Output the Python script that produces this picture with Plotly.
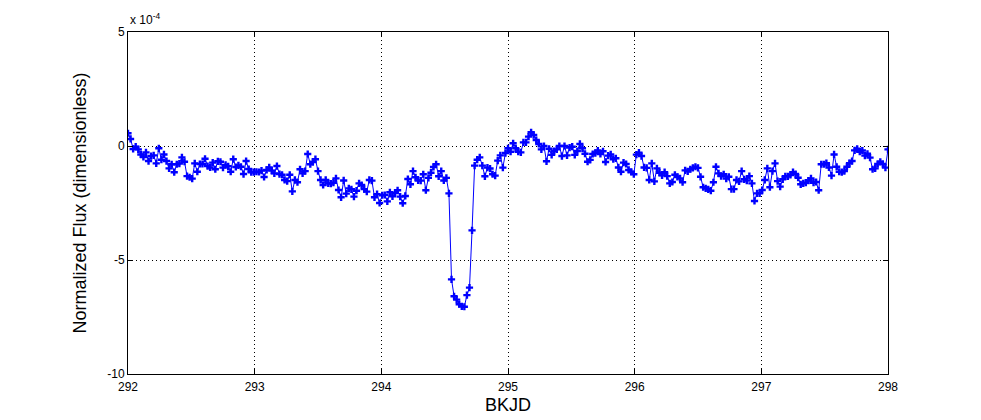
"""Kepler light curve around a transit-like dip, MATLAB-style axes."""

import numpy as np
import plotly.graph_objects as go

# normalized flux, in units of 1e-4, read day by day (292 -> 298 BKJD)
flux_day1 = [0.56, 0.31, -0.13, -0.03, -0.15, -0.37, -0.48, -0.28, -0.66, -0.44,
             -0.41, -0.76, -0.10, -0.60, -0.37, -0.66, -0.98, -0.80, -1.15, -0.80,
             -0.77, -0.50, -0.69, -1.32, -1.37, -1.43, -0.76, -1.13, -0.79, -0.79,
             -0.56, -0.88, -0.94, -0.73, -1.02, -0.67, -0.69, -0.95, -0.83, -0.89,
             -1.13, -0.58, -0.92, -0.85, -0.91, -1.23, -0.66, -1.01, -1.15, -1.15,
             -1.13]
flux_day2 = [-1.14, -1.08, -1.36, -1.05, -0.94, -1.08, -1.20, -0.88, -1.23, -1.26,
             -1.49, -1.54, -1.26, -1.99, -1.49, -1.59, -1.02, -1.20, -1.10, -0.35,
             -0.80, -0.70, -0.58, -1.10, -1.49, -1.71, -1.49, -1.64, -1.65, -1.61,
             -1.42, -1.93, -2.25, -1.51, -2.09, -1.86, -1.90, -2.22, -1.96, -1.64,
             -1.71, -1.89, -2.00, -1.49, -1.52, -2.25, -2.11, -2.50, -2.16]
flux_day3 = [-2.15, -2.43, -2.03, -2.21, -2.06, -1.94, -2.22, -2.51, -2.19, -1.45,
             -1.68, -1.10, -1.37, -1.51, -1.52, -1.24, -1.94, -1.40, -1.17, -0.92,
             -0.80, -1.33, -1.10, -1.51, -1.40, -2.08, -5.85, -6.59, -6.74, -6.94,
             -7.03, -7.05, -6.54, -6.21, -3.70, -0.86, -0.60, -0.50, -0.86, -1.33,
             -0.95, -0.99, -1.24, -1.30, -0.64, -0.41, -0.95, -0.31, -0.10]
flux_day4 = [-0.25, 0.12, -0.10, -0.25, -0.28, 0.16, 0.16, 0.41, 0.60, 0.48,
             0.26, 0.09, -0.15, 0.00, -0.67, -0.12, -0.39, -0.22, -0.15, 0.00,
             -0.44, 0.00, -0.41, -0.07, -0.03, -0.39, -0.22, 0.09, -0.10, -0.34,
             -0.69, -0.61, -0.35, -0.31, -0.20, -0.35, -0.23, -0.70, -0.42, -0.37,
             -0.58, -0.54, -0.94, -1.13, -0.73, -0.79, -1.05, -1.13, -1.24, -0.38]
flux_day5 = [-0.29, -0.44, -0.94, -0.96, -1.49, -0.76, -1.55, -0.98, -1.17, -1.29,
             -1.15, -1.32, -1.64, -1.58, -1.26, -1.35, -1.42, -1.59, -1.07, -1.11,
             -1.02, -0.96, -0.91, -0.96, -1.35, -1.81, -1.86, -1.90, -1.96, -1.59,
             -0.91, -1.20, -1.32, -1.24, -1.43, -1.35, -1.89, -1.89, -1.49, -1.55,
             -1.10, -1.46, -1.52, -1.32, -1.64, -2.41, -2.08, -2.08, -1.93, -1.49]
flux_day6 = [-0.98, -1.81, -1.10, -0.76, -1.54, -1.78, -1.46, -1.33, -1.33, -1.27,
             -1.15, -1.23, -1.39, -1.68, -1.64, -1.61, -1.52, -1.42, -1.61, -1.58,
             -1.94, -0.80, -0.80, -0.75, -0.94, -1.30, -0.37, -0.91, -1.13, -1.15,
             -1.10, -0.91, -0.75, -0.66, -0.19, -0.12, -0.25, -0.20, -0.42, -0.34,
             -0.51, -1.02, -0.98, -0.79, -0.69, -0.79, -0.95, -0.15]

flux = flux_day1 + flux_day2 + flux_day3 + flux_day4 + flux_day5 + flux_day6
bkjd = np.linspace(292, 298, len(flux))  # regular long-cadence sampling

x_ticks = [292, 293, 294, 295, 296, 297, 298]
y_ticks = [-10, -5, 0, 5]
y_ticktext = ["-10", "-5", "0", "5"]

FONT = "Liberation Sans, Arial, sans-serif"

fig = go.Figure(
    go.Scatter(
        x=bkjd,
        y=flux,
        mode="lines+markers",
        line=dict(color="#0000ff", width=1),
        marker=dict(symbol="cross", size=6, color="#0000ff", line=dict(width=0)),
        showlegend=False,
    )
)

axis_style = dict(
    showline=True,
    linecolor="black",
    linewidth=1,
    mirror="ticks",
    ticks="inside",
    ticklen=5,
    tickcolor="black",
    showgrid=True,
    gridcolor="black",
    griddash="1px,3px",
    gridwidth=1,
    zeroline=False,
    automargin=False,
    tickfont=dict(family=FONT, size=12, color="black"),
)

fig.update_xaxes(
    range=[292, 298],
    tickvals=x_ticks,
    ticklabelstandoff=2,
    **axis_style,
)
fig.update_yaxes(
    range=[-10, 5],
    tickvals=y_ticks,
    ticktext=y_ticktext,
    title=dict(text="Normalized Flux (dimensionless)",
               font=dict(family=FONT, size=18, color="black")),
    **axis_style,
)

# x label drawn as an annotation so it sits where MATLAB puts it
fig.add_annotation(
    text="BKJD",
    xref="paper", yref="paper", x=0.5, y=0,
    xanchor="center", yanchor="middle", yshift=-31, showarrow=False,
    font=dict(family=FONT, size=18, color="black"),
)
fig.add_annotation(
    text="x 10<sup>-4</sup>",
    xref="paper", yref="paper", x=0, y=1,
    xanchor="left", yanchor="bottom", yshift=3, showarrow=False,
    font=dict(family=FONT, size=12, color="black"),
)

fig.update_layout(
    width=981,
    height=420,
    margin=dict(l=128, r=93, t=32, b=46),
    plot_bgcolor="white",
    paper_bgcolor="white",
)

# drop the default page margin so the figure fills the window exactly
fig.write_html(
    "out.html",
    config={"displayModeBar": False},
    post_script="document.body.style.margin = '0';",
)
